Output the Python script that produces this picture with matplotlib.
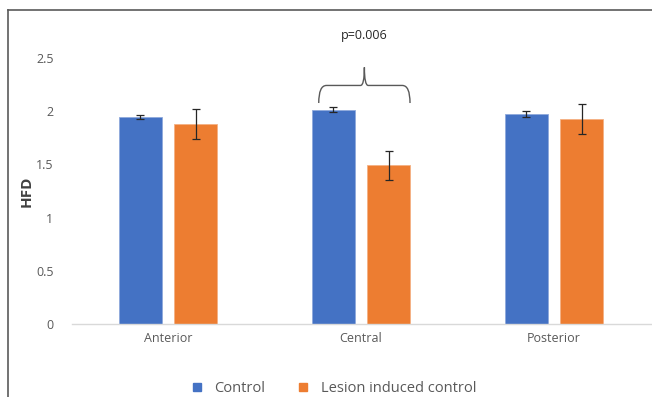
import matplotlib
matplotlib.use("Agg")
import matplotlib.pyplot as plt
import numpy as np
from matplotlib.path import Path
from matplotlib.patches import PathPatch
from matplotlib.lines import Line2D

categories = ["Anterior", "Central", "Posterior"]
series_names = ["Control", "Lesion induced control"]
control = [1.943, 2.014, 1.974]
control_err = [0.021, 0.023, 0.024]
lesion = [1.877, 1.491, 1.927]
lesion_err = [0.140, 0.138, 0.140]
yticks = [0, 0.5, 1, 1.5, 2, 2.5]
ytick_labels = ["0", "0.5", "1", "1.5", "2", "2.5"]
p_label = "p=0.006"

blue = "#4472C4"
orange = "#ED7D31"
font = "Open Sans"

fig = plt.figure(figsize=(6.52, 3.97), dpi=100)
ax = fig.add_axes([71.5/652, 1-324/397, 579/652, 266/397])

x = np.arange(len(categories))
w = 0.223
off = 0.1425
ax.bar(x - off, control, w, color=blue, edgecolor="#8fa9dc", linewidth=0.6, zorder=2)
ax.bar(x + off, lesion, w, color=orange, edgecolor="#f4b183", linewidth=0.6, zorder=2)
ax.errorbar(x - off, control, yerr=control_err, fmt="none", ecolor="#262626",
            elinewidth=0.9, capsize=3, capthick=0.9, zorder=3)
ax.errorbar(x + off, lesion, yerr=lesion_err, fmt="none", ecolor="#262626",
            elinewidth=0.9, capsize=3, capthick=0.9, zorder=3)

ax.set_xlim(-0.5, 2.5)
ax.set_ylim(0, 2.5)
ax.set_yticks(yticks)
ax.set_yticklabels(ytick_labels, fontsize=9, color="#595959", family=font)
ax.set_xticks(x)
ax.set_xticklabels(categories, fontsize=9, color="#595959", family=font)
ax.tick_params(axis="both", length=0)
ax.tick_params(axis="y", pad=13)
ax.tick_params(axis="x", pad=6)
for s in ["top", "right", "left"]:
    ax.spines[s].set_visible(False)
ax.spines["bottom"].set_color("#d9d9d9")
ax.spines["bottom"].set_linewidth(1.0)
ax.set_ylabel("HFD", fontsize=11, fontweight="bold", color="#404040", family=font, labelpad=2)

# curly brace over the Central pair
ci = 1
x0 = ci - off - w/2 + 0.035
x1 = ci + off + w/2
xm = (x0 + x1) / 2
y_low = max(control[ci] + control_err[ci], lesion[ci] + lesion_err[ci]) + 0.04
y_h = y_low + 0.165
y_pk = y_h + 0.17
r = 0.02
verts = [(x0, y_low), (x0, y_h), (x0 + r*2, y_h),
         (xm - r, y_h), (xm, y_h), (xm, y_pk),
         (xm, y_h), (xm + r, y_h),
         (x1 - r*2, y_h), (x1, y_h), (x1, y_low)]
codes = [Path.MOVETO, Path.CURVE3, Path.CURVE3,
         Path.LINETO, Path.CURVE3, Path.CURVE3,
         Path.CURVE3, Path.CURVE3,
         Path.LINETO, Path.CURVE3, Path.CURVE3]
brace = PathPatch(Path(verts, codes), facecolor="none", edgecolor="#595959",
                  linewidth=1.0, clip_on=False, zorder=4)
ax.add_patch(brace)
ax.text(xm, y_pk + 0.3, p_label, ha="center", va="center", fontsize=9,
        color="#262626", family=font, clip_on=False)

handles = [Line2D([], [], marker="s", linestyle="none", markersize=6, color=blue),
           Line2D([], [], marker="s", linestyle="none", markersize=6, color=orange)]
fig.legend(handles, series_names, loc="center", bbox_to_anchor=(0.505, 1-389/397),
           ncol=2, frameon=False, prop={"family": font, "size": 10.5},
           handletextpad=0.2, columnspacing=1.6, labelcolor="#595959")

# outer frame (left and top)
fig.add_artist(Line2D([8/652, 8/652], [0, 1-10/397], transform=fig.transFigure,
                      color="#5a5a5a", linewidth=1.2))
fig.add_artist(Line2D([8/652, 1], [1-10/397, 1-10/397], transform=fig.transFigure,
                      color="#5a5a5a", linewidth=1.2))

fig.savefig("out.png", dpi=100)
